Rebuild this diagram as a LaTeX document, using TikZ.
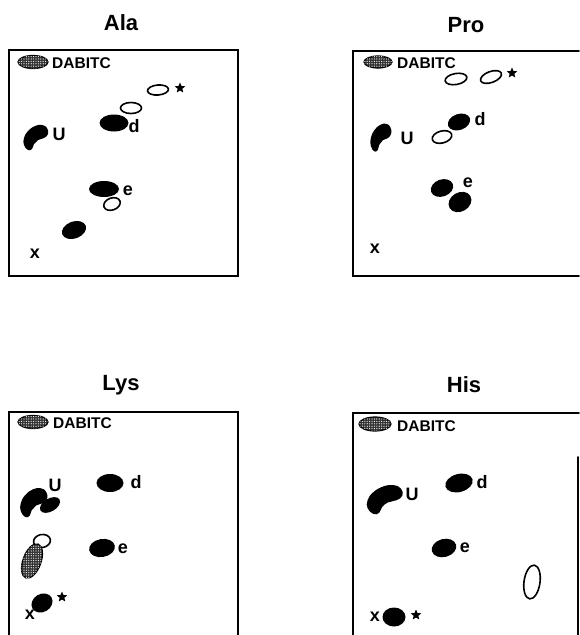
\documentclass[tikz,border=0pt]{standalone}
\usepackage{fontspec}
\setmainfont{Liberation Sans}
\usetikzlibrary{shapes.geometric,patterns.meta}
\tikzset{
  title/.style={font=\fontsize{22}{24}\selectfont\bfseries, inner sep=0pt},
  lab/.style={font=\fontsize{18}{20}\selectfont\bfseries, inner sep=0pt},
  dab/.style={font=\fontsize{15.5}{17}\selectfont\bfseries, inner sep=0pt, anchor=west},
  frame/.style={line width=1.6pt, line cap=round},
  openspot/.style={draw, line width=1.6pt},
  solidspot/.style={fill=black},
  hatchspot/.style={draw, line width=1.2pt, fill=black!80,
    postaction={pattern={Dots[distance=2.4pt, radius=0.6pt]}, pattern color=white}},
  starmark/.style={star, star points=5, star point ratio=2.2, fill=black, inner sep=0pt, minimum size=11pt},
  ublob/.pic={\fill plot[smooth cycle, tension=0.75] coordinates {(-8,13) (-12,8) (-12,1) (-8,-6) (-1,-11) (6,-12) (11,-9) (12,-3) (8,1) (2,3) (-2,7) (-4,12)};}
}
\begin{document}
\begin{tikzpicture}[x=1pt,y=-1pt]
\useasboundingbox (0,0) rectangle (579,635);

% ---------- Ala ----------
\node[title] (tAla) at (121,23) {Ala};
\draw[frame] (9,50) rectangle (238,276);
\path[hatchspot] (33,62) ellipse [x radius=15pt, y radius=6.5pt];
\node[dab] (dAla) at (52,63) {DABITC};
\path[openspot] (158,90) ellipse [x radius=10.5pt, y radius=5pt, rotate=5];
\node[starmark] (sAla) at (180,88) {};
\path[openspot] (131,108) ellipse [x radius=10.5pt, y radius=5.5pt];
\path[solidspot] (114,123) ellipse [x radius=14.5pt, y radius=8.5pt];
\node[lab] (dlAla) at (134,126) {d};
\pic at (36,137) {ublob};
\node[lab] (uAla) at (59,134) {U};
\path[solidspot] (104,189) ellipse [x radius=15pt, y radius=8pt];
\node[lab] (eAla) at (128,191) {e};
\path[openspot] (112,204) ellipse [x radius=8.5pt, y radius=6pt, rotate=20];
\path[solidspot] (74,230) ellipse [x radius=12.5pt, y radius=8.5pt, rotate=20];
\node[lab] (xAla) at (35,254) {x};

% ---------- Pro ----------
\node[title] (tPro) at (466,25) {Pro};
\draw[frame] (579,51) -- (353,51) -- (353,276) -- (579,276);
\path[hatchspot] (378,62) ellipse [x radius=14pt, y radius=6pt];
\node[dab] (dPro) at (397,63) {DABITC};
\path[openspot] (456,79) ellipse [x radius=11pt, y radius=5.5pt, rotate=10];
\path[openspot] (491,77) ellipse [x radius=11pt, y radius=5.5pt, rotate=20];
\node[starmark] (sPro) at (512,73) {};
\path[solidspot] (459,122) ellipse [x radius=11.5pt, y radius=8pt, rotate=20];
\node[lab] (dlPro) at (480,119) {d};
\path[openspot] (442,137) ellipse [x radius=10pt, y radius=6pt, rotate=15];
\pic[xscale=0.85, yscale=1.1] at (381,137) {ublob};
\node[lab] (uPro) at (407,138) {U};
\path[solidspot] (442,188) ellipse [x radius=11.5pt, y radius=8.5pt, rotate=20];
\path[solidspot] (460,202) ellipse [x radius=12pt, y radius=9.5pt, rotate=30];
\node[lab] (ePro) at (468,183) {e};
\node[lab] (xPro) at (375,249) {x};

% ---------- Lys ----------
\node[title] (tLys) at (121,385) {Lys};
\draw[frame] (9,635) -- (9,412) -- (238,412) -- (238,635);
\path[hatchspot] (33,422) ellipse [x radius=15pt, y radius=6.5pt];
\node[dab] (dLys) at (53,423) {DABITC};
\path[solidspot] (110,483) ellipse [x radius=13.5pt, y radius=9pt];
\node[lab] (dlLys) at (136,482) {d};
\pic[xscale=1.1, yscale=1.15] at (34,502) {ublob};
\node[lab] (uLys) at (55,485) {U};
\path[solidspot] (50,505) ellipse [x radius=11pt, y radius=6.5pt, rotate=30];
\path[openspot] (42,541) ellipse [x radius=8.5pt, y radius=6.5pt, rotate=10];
\path[hatchspot] (32,561) ellipse [x radius=18pt, y radius=9pt, rotate=70];
\path[solidspot] (102,548) ellipse [x radius=13pt, y radius=9pt, rotate=10];
\node[lab] (eLys) at (123,549) {e};
\path[solidspot] (42,603) ellipse [x radius=11pt, y radius=9pt, rotate=30];
\node[starmark] (sLys) at (62,597) {};
\node[lab] (xLys) at (30,615) {x};

% ---------- His ----------
\node[title] (tHis) at (464,385) {His};
\draw[frame] (353,635) -- (353,413) -- (579,413);
\draw[frame] (578,457) -- (578,635);
\path[hatchspot] (375,424) ellipse [x radius=16pt, y radius=7pt];
\node[dab] (dHis) at (397,426) {DABITC};
\path[solidspot] (459,483) ellipse [x radius=14pt, y radius=9pt, rotate=15];
\node[lab] (dlHis) at (482,482) {d};
\pic[xscale=1.45, yscale=1.15] at (385,499) {ublob};
\node[lab] (uHis) at (412,494) {U};
\path[solidspot] (444,548) ellipse [x radius=12.5pt, y radius=9pt, rotate=15];
\node[lab] (eHis) at (465,548) {e};
\path[openspot] (532,582) ellipse [x radius=8pt, y radius=17pt, rotate=-8];
\path[solidspot] (394,617) ellipse [x radius=11.5pt, y radius=9.5pt];
\node[lab] (xHis) at (375,617) {x};
\node[starmark] (sHis) at (416,615) {};
\end{tikzpicture}
\end{document}
